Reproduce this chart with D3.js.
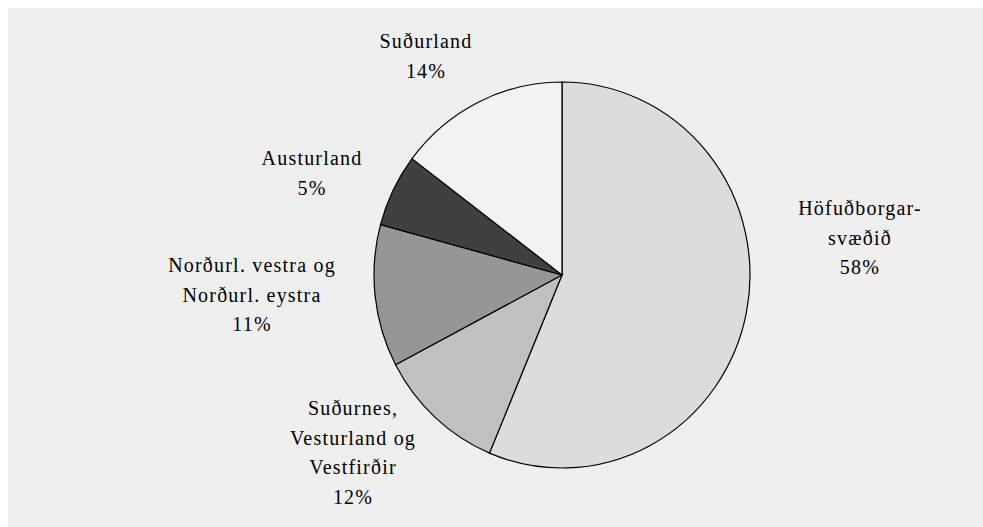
<!DOCTYPE html>
<html>
<head>
<meta charset="utf-8">
<script src="https://cdn.jsdelivr.net/npm/d3@7"></script>
<style>
  body { margin: 0; background: #fff; }
</style>
</head>
<body>
<div id="pie_chart"></div>
<script>
// regions, clockwise from 12 o'clock
const regions = [
    ["Höfuðborgar-", "svæðið"],
    ["Suðurnes,", "Vesturland og", "Vestfirðir"],
    ["Norðurl. vestra og", "Norðurl. eystra"],
    ["Austurland"],
    ["Suðurland"]
];
// slice sizes as drawn
const shares = [56.3, 11.0, 11.9, 6.1, 14.7];
// percentages as printed on the chart
const pctLabels = ["58%", "12%", "11%", "5%", "14%"];

const fills = ["#dcdcdc", "#c0c0c0", "#969696", "#404040", "#f2f2f2"];
// label anchor (text centre, first baseline) relative to pie centre
const labelPos = [[298, -60], [-209, 140], [-310, -3], [-250, -110], [-136, -227]];

var width = 983, height = 527;
var cx = 562, cy = 275, rx = 188, ry = 193;
var lineH = 29.5;

var svg = d3.select("#pie_chart").append("svg").attr("width", width).attr("height", height);

//background panel
svg.append("rect").attr("x", 8).attr("y", 8).attr("width", width - 8).attr("height", height - 8).attr("fill", "#efefef");

var pie = d3.pie().sort(null).value(d => d);
var arc = d3.arc().innerRadius(0).outerRadius(rx);

var g = svg.append("g").attr("transform", "translate(" + cx + "," + cy + ") scale(1," + (ry / rx) + ")");

g.selectAll("path")
    .data(pie(shares))
    .join("path")
    .attr("d", arc)
    .attr("fill", (d, i) => fills[i])
    .attr("stroke", "#000")
    .attr("stroke-width", 1.2)
    .attr("vector-effect", "non-scaling-stroke");

//labels (20px renders as a proper serif here, spacing makes up the width)
var labels = svg.append("g").attr("transform", "translate(" + cx + "," + cy + ")");
regions.forEach(function (lines, i) {
    lines.concat([pctLabels[i]]).forEach(function (s, j) {
        labels.append("text")
            .attr("text-anchor", "middle")
            .attr("x", labelPos[i][0])
            .attr("y", labelPos[i][1] + j * lineH)
            .style("font-family", "'Liberation Serif'")
            .style("font-size", "20px")
            .style("letter-spacing", "1.2px")
            .style("fill", "#000")
            .text(s);
    });
});
</script>
</body>
</html>
